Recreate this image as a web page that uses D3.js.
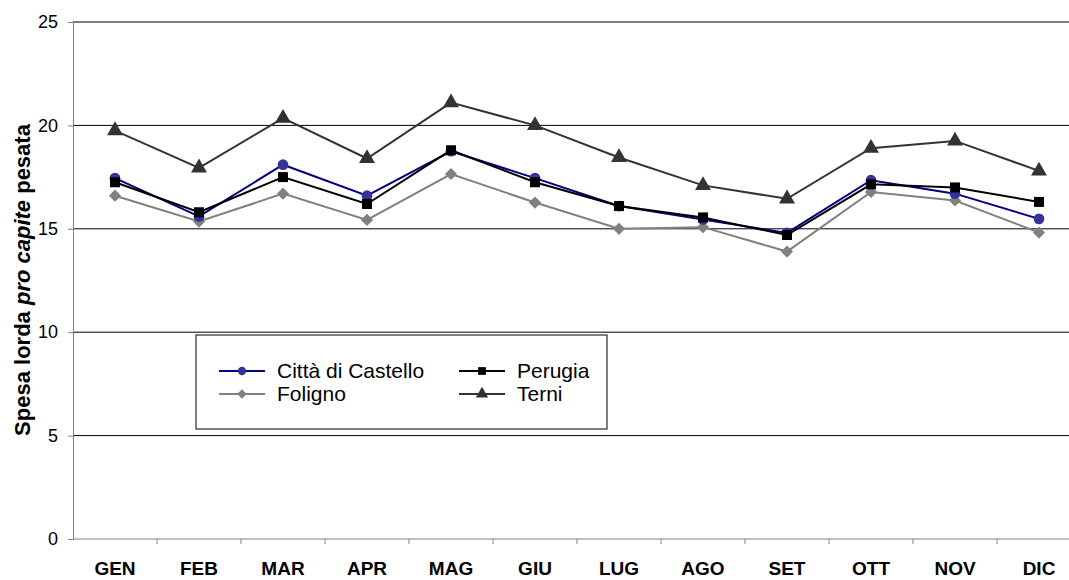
<!DOCTYPE html>
<html>
<head>
<meta charset="utf-8">
<script src="https://cdnjs.cloudflare.com/ajax/libs/d3/7.8.5/d3.min.js"></script>
<style>
body { margin: 0; background: #fff; }
text { font-family: "Liberation Sans", Arial, sans-serif; }
</style>
</head>
<body>
<div id="chart"></div>
<script>
var mesi = ["GEN", "FEB", "MAR", "APR", "MAG", "GIU", "LUG", "AGO", "SET", "OTT", "NOV", "DIC"];
var cittaDiCastello = [17.45, 15.6, 18.1, 16.6, 18.75, 17.45, 16.1, 15.45, 14.8, 17.35, 16.7, 15.48];
var perugia = [17.25, 15.8, 17.5, 16.2, 18.8, 17.25, 16.1, 15.55, 14.7, 17.15, 17.0, 16.3];
var foligno = [16.6, 15.35, 16.7, 15.43, 17.65, 16.27, 15.0, 15.08, 13.9, 16.78, 16.37, 14.82];
var terni = [19.75, 17.95, 20.35, 18.4, 21.1, 20.0, 18.45, 17.1, 16.45, 18.9, 19.25, 17.8];
var yTicks = [0, 5, 10, 15, 20, 25];

var series = [
  {name: "Città di Castello", values: cittaDiCastello, line: "#000080", fill: "#333399", sym: d3.symbolCircle, size: 90},
  {name: "Perugia", values: perugia, line: "#000000", fill: "#000000", sym: d3.symbolSquare, size: 100},
  {name: "Foligno", values: foligno, line: "#808080", fill: "#808080", sym: d3.symbolDiamond2, size: 95},
  {name: "Terni", values: terni, line: "#333333", fill: "#333333", sym: d3.symbolTriangle, size: 110}
];

var width = 1069, height = 580;
var mLeft = 73, mTop = 22, plotRight = 1081, plotBottom = 539;

var svg = d3.select("#chart").append("svg")
    .attr("width", width)
    .attr("height", height);

var x = d3.scaleBand().domain(mesi).range([mLeft, plotRight]);
var y = d3.scaleLinear().domain([0, 25]).range([plotBottom, mTop]);

// gridlines
svg.append("g").selectAll("line")
    .data(yTicks.filter(function(d) { return d > 0; }))
    .enter().append("line")
    .attr("x1", mLeft).attr("x2", plotRight)
    .attr("y1", function(d) { return y(d); })
    .attr("y2", function(d) { return y(d); })
    .attr("stroke", "#000").attr("stroke-width", 1);

// y axis
var yAxis = svg.append("g")
    .attr("transform", "translate(" + mLeft + ",0)")
    .call(d3.axisLeft(y).tickValues(yTicks).tickSize(5).tickPadding(10));
yAxis.select(".domain").attr("stroke", "#808080");
yAxis.selectAll(".tick line").attr("stroke", "#808080");
yAxis.selectAll("text").attr("font-size", 18).attr("fill", "#000")
    .style("font-family", "Liberation Sans, Arial, sans-serif");

// x axis, ticks on the band edges
var xAxis = svg.append("g")
    .attr("transform", "translate(0," + plotBottom + ")");
xAxis.append("line")
    .attr("x1", mLeft).attr("x2", plotRight)
    .attr("stroke", "#808080");
xAxis.selectAll(".tk")
    .data(mesi.slice(1))
    .enter().append("line")
    .attr("class", "tk")
    .attr("x1", function(d) { return x(d); })
    .attr("x2", function(d) { return x(d); })
    .attr("y1", 0).attr("y2", 5)
    .attr("stroke", "#808080");
xAxis.selectAll("text")
    .data(mesi)
    .enter().append("text")
    .attr("x", function(d) { return x(d) + x.bandwidth() / 2; })
    .attr("y", 36)
    .attr("text-anchor", "middle")
    .attr("font-size", 19)
    .attr("font-weight", "bold")
    .text(function(d) { return d; });

// y title
var title = svg.append("text")
    .attr("transform", "translate(30,280) rotate(-90)")
    .attr("text-anchor", "middle")
    .attr("font-size", 22)
    .attr("font-weight", "bold");
title.append("tspan").text("Spesa lorda ");
title.append("tspan").attr("font-style", "italic").text("pro capite");
title.append("tspan").text(" pesata");

// lines + markers
var line = d3.line()
    .x(function(d, i) { return x(mesi[i]) + x.bandwidth() / 2; })
    .y(function(d) { return y(d); });

var draw = [series[2], series[0], series[1], series[3]];
draw.forEach(function(s) {
  svg.append("path")
      .datum(s.values)
      .attr("d", line)
      .attr("fill", "none")
      .attr("stroke", s.line)
      .attr("stroke-width", 2);
});
draw.forEach(function(s) {
  svg.append("g").selectAll("path")
      .data(s.values)
      .enter().append("path")
      .attr("d", d3.symbol().type(s.sym).size(s.size))
      .attr("transform", function(d, i) {
        return "translate(" + (x(mesi[i]) + x.bandwidth() / 2) + "," + y(d) + ")";
      })
      .attr("fill", s.fill);
});

// legend
svg.append("rect")
    .attr("x", 196).attr("y", 335)
    .attr("width", 411).attr("height", 94)
    .attr("fill", "#fff").attr("stroke", "#000").attr("stroke-width", 1);

var legendPos = [[219, 371], [459, 371], [219, 394], [459, 394]];
var legend = svg.selectAll(".legend")
    .data(series)
    .enter().append("g")
    .attr("class", "legend")
    .attr("transform", function(d, i) { return "translate(" + legendPos[i][0] + "," + legendPos[i][1] + ")"; });

legend.append("line")
    .attr("x1", 0).attr("x2", 46)
    .attr("stroke", function(d) { return d.line; })
    .attr("stroke-width", 2);
legend.append("path")
    .attr("d", function(d) { return d3.symbol().type(d.sym).size(d.size * 0.6)(); })
    .attr("transform", "translate(23,0)")
    .attr("fill", function(d) { return d.fill; });
legend.append("text")
    .attr("x", 58).attr("y", 7)
    .attr("font-size", 21)
    .text(function(d) { return d.name; });
</script>
</body>
</html>
